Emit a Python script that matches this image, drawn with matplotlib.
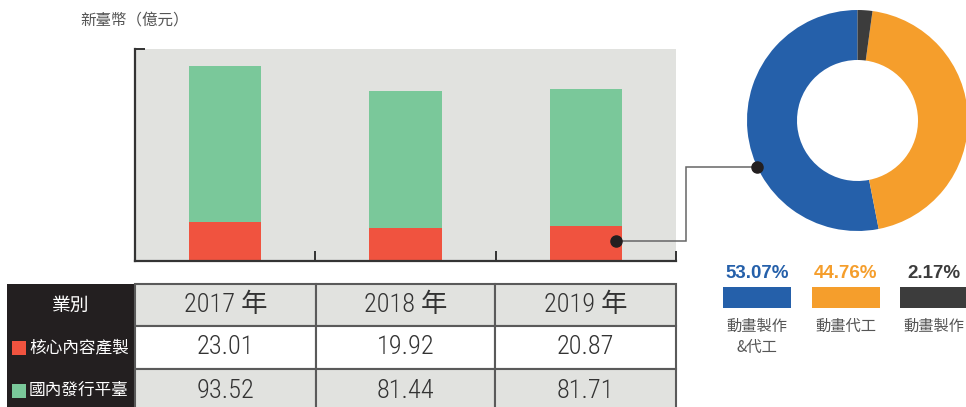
import matplotlib
matplotlib.use("Agg")
import matplotlib.pyplot as plt
from matplotlib import font_manager
from matplotlib.patches import Rectangle
import numpy as np

# ---------------- data ----------------
years = ["2017", "2018", "2019"]
year_labels = ["2017 年", "2018 年", "2019 年"]
core_content = [23.01, 19.92, 20.87]      # 核心內容產製
domestic_platform = [93.52, 81.44, 81.71]  # 國內發行平臺
series_names = ["核心內容產製", "國內發行平臺"]
header_label = "業別"
y_unit_label = "新臺幣（億元）"

donut_labels = ["動畫製作\n&代工", "動畫代工", "動畫製作"]
donut_values = [53.07, 44.76, 2.17]

# ---------------- style ----------------
C_RED = "#F0533F"
C_GREEN = "#7AC89A"
C_BG = "#E1E2DF"
C_DARK = "#231F20"
C_BLUE = "#2560AA"
C_ORANGE = "#F59E2C"
C_GREY = "#3C3C3C"
donut_colors = [C_BLUE, C_ORANGE, C_GREY]

fonts = font_manager.fontManager.ttflist
names = {f.name for f in fonts}
CJK = "Noto Sans CJK TC"

# pick a condensed face for the table numbers
num_kw = dict(family=["DejaVu Sans", CJK], fontsize=16)
if "Roboto Condensed" in names:
    num_kw = dict(family=["Roboto Condensed", CJK], fontsize=19, fontweight="light")
elif "Liberation Sans Narrow" in names:
    num_kw = dict(family=["Liberation Sans Narrow", CJK], fontsize=19)
elif any(f.name == "DejaVu Sans" and f.stretch == "condensed" for f in fonts):
    num_kw = dict(family=["DejaVu Sans", CJK], fontsize=17, fontstretch="condensed",
                  fontweight="light" if any(f.name == "DejaVu Sans" and f.weight == 200 for f in fonts) else "normal")
elif "Roboto" in names:
    num_kw = dict(family=["Roboto", CJK], fontsize=18, fontweight="light")

plt.rcParams["font.family"] = [CJK, "DejaVu Sans"]

W, H = 966, 407
fig = plt.figure(figsize=(W / 100, H / 100), dpi=100)


def px_axes(x0, y0, x1, y1):
    return fig.add_axes([x0 / W, 1 - y1 / H, (x1 - x0) / W, (y1 - y0) / H])


# ---------------- bar chart ----------------
ax = px_axes(135, 49, 676, 261)
ax.set_facecolor(C_BG)
x = np.arange(len(years))
ax.bar(x, core_content, width=0.4, color=C_RED, zorder=2)
ax.bar(x, domestic_platform, width=0.4, bottom=core_content, color=C_GREEN, zorder=2)
ax.set_xlim(-0.5, 2.5)
ax.set_ylim(0, 126.7)
for s in ["top", "right"]:
    ax.spines[s].set_visible(False)
for s in ["left", "bottom"]:
    ax.spines[s].set_color("#333333")
    ax.spines[s].set_linewidth(1.6)
ax.set_xticks([0.5, 1.5, 2.5])
ax.set_xticklabels([])
ax.set_yticks([126.7])
ax.set_yticklabels([])
ax.tick_params(axis="both", direction="in", length=7, width=1.4, color="#333333")

fig.text(80 / W, 1 - 20 / H, y_unit_label, fontsize=11.2, color="#555555",
         va="center", ha="left", family=[CJK, "DejaVu Sans"])

# ---------------- donut ----------------
cx, cy, R = 857.5, 120.5, 110.5
pax = px_axes(cx - R, cy - R, cx + R, cy + R)
pax.pie(donut_values, colors=donut_colors, startangle=90, counterclock=True,
        radius=1.0, wedgeprops=dict(width=1 - 60.5 / 110.5, linewidth=0))
pax.set_xlim(-1, 1)
pax.set_ylim(-1, 1)
pax.set_aspect("equal")
pax.axis("off")

# ---------------- overlay (table, connector, legend) ----------------
ov = fig.add_axes([0, 0, 1, 1], zorder=5)
ov.set_xlim(0, W)
ov.set_ylim(H, 0)
ov.axis("off")

# connector from bar to donut
fig.canvas.draw()
to_px = ov.transData.inverted()
p_bar = to_px.transform(ax.transData.transform((x[2] + 0.17, core_content[2] * 0.57)))
ang = np.deg2rad(205)
p_don = to_px.transform(pax.transData.transform((np.cos(ang), np.sin(ang))))
xm = 686
ov.plot([p_bar[0], xm, xm, p_don[0]], [p_bar[1], p_bar[1], p_don[1], p_don[1]],
        color="#666666", lw=1.1, solid_joinstyle="miter")
ov.plot([p_bar[0], p_don[0]], [p_bar[1], p_don[1]], "o", color=C_DARK, ms=8, ls="none")

# table
col_edges = [7, 135, 316, 495, 676]
row_edges = [284, 326, 369, 412]
row_bg = [C_BG, "white", C_BG]
for r in range(3):
    y0, y1 = row_edges[r], row_edges[r + 1]
    ov.add_patch(Rectangle((col_edges[0], y0), col_edges[1] - col_edges[0], y1 - y0,
                           facecolor=C_DARK, edgecolor="none"))
    for c in range(1, 4):
        ov.add_patch(Rectangle((col_edges[c], y0), col_edges[c + 1] - col_edges[c], y1 - y0,
                               facecolor=row_bg[r], edgecolor="#5A5A5A", lw=1.5))

rows_text = [year_labels,
             [f"{v:.2f}" for v in core_content],
             [f"{v:.2f}" for v in domestic_platform]]
for r in range(3):
    yc = (row_edges[r] + row_edges[r + 1]) / 2
    for c in range(3):
        xc = (col_edges[c + 1] + col_edges[c + 2]) / 2
        ov.text(xc, yc, rows_text[r][c], ha="center", va="center",
                color="#333333", **num_kw)

ov.text((col_edges[0] + col_edges[1]) / 2, (row_edges[0] + row_edges[1]) / 2, header_label,
        ha="center", va="center", fontsize=13.5, color="white", family=[CJK])
for i, (name, colr) in enumerate(zip(series_names, [C_RED, C_GREEN])):
    yc = (row_edges[i + 1] + row_edges[i + 2]) / 2
    ov.add_patch(Rectangle((12, yc - 7), 14, 14, facecolor=colr, edgecolor="none"))
    ov.text(29, yc, name, ha="left", va="center", fontsize=12, color="white", family=[CJK])

# donut legend
leg_x = [723, 812, 900]
for lx, val, lab, colr in zip(leg_x, donut_values, donut_labels, donut_colors):
    ov.text(lx + 34, 274, f"{val:.2f}%", ha="center", va="center", fontsize=13.5,
            fontweight="bold", color=colr, family=["Liberation Sans", "DejaVu Sans"])
    ov.add_patch(Rectangle((lx, 287), 68, 21, facecolor=colr, edgecolor="none"))
    ov.text(lx + 34, 318, lab, ha="center", va="top", fontsize=11, color="#555555",
            linespacing=1.3, family=[CJK, "DejaVu Sans"])

fig.savefig("out.png", dpi=100)
